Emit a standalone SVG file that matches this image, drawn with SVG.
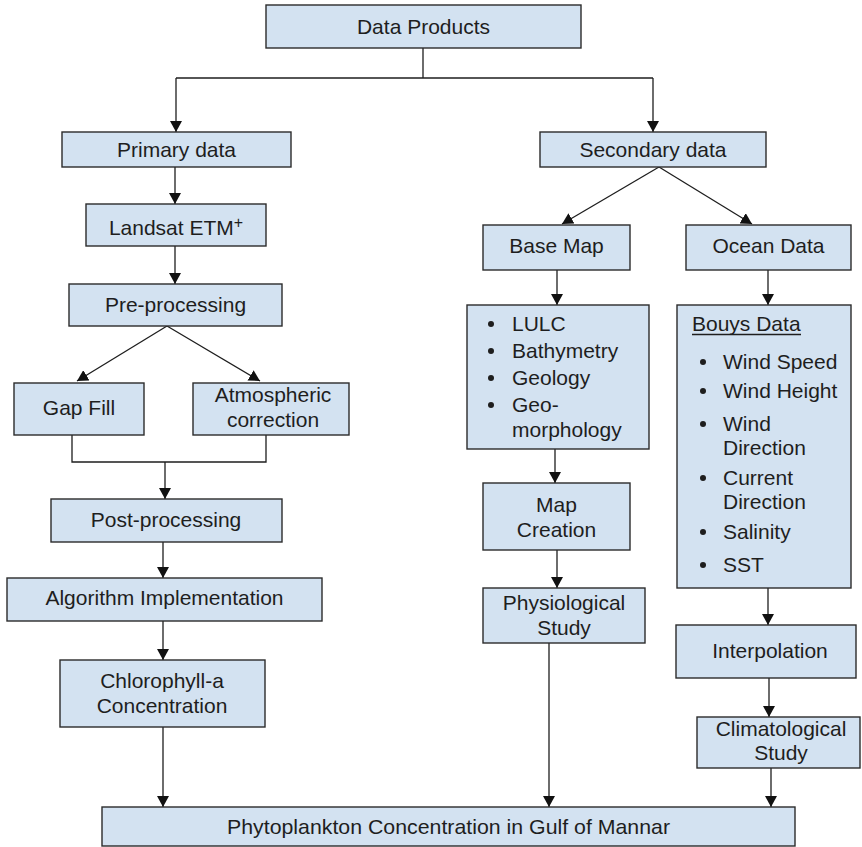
<svg xmlns="http://www.w3.org/2000/svg" width="862" height="847" viewBox="0 0 862 847">
<style>
.box{fill:#d3e2f1;stroke:#2b2b2b;stroke-width:1.4}
.t{font-family:"Liberation Sans",Arial,sans-serif;font-size:21px;fill:#1e1e1e}
.c{text-anchor:middle}
.ln{fill:none;stroke:#1e1e1e;stroke-width:1.3}
.ar{marker-end:url(#ah)}
.bul{fill:#1e1e1e}
</style>
<defs>
<marker id="ah" markerUnits="userSpaceOnUse" markerWidth="12" markerHeight="12" refX="11" refY="6" orient="auto">
<path d="M0,0 L11,6 L0,12 z" fill="#111"/>
</marker>
</defs>
<rect width="862" height="847" fill="#fff"/>

<g id="connectors">
<polyline class="ln" points="423,48 423,78"/>
<polyline class="ln" points="176,78 653,78"/>
<line class="ln ar" x1="176" y1="78" x2="176" y2="132"/>
<line class="ln ar" x1="653" y1="78" x2="653" y2="132"/>
<line class="ln ar" x1="175" y1="167" x2="175" y2="204"/>
<line class="ln ar" x1="175" y1="246" x2="175" y2="284"/>
<line class="ln ar" x1="167" y1="326" x2="77" y2="381"/>
<line class="ln ar" x1="167" y1="326" x2="260" y2="381"/>
<polyline class="ln" points="72,435 72,462 266,462 266,435"/>
<line class="ln ar" x1="165" y1="462" x2="165" y2="499"/>
<line class="ln ar" x1="163" y1="542" x2="163" y2="578"/>
<line class="ln ar" x1="163" y1="621" x2="163" y2="660"/>
<line class="ln ar" x1="163" y1="727" x2="163" y2="807"/>
<line class="ln ar" x1="659" y1="167" x2="562" y2="224"/>
<line class="ln ar" x1="659" y1="167" x2="752" y2="224"/>
<line class="ln ar" x1="557" y1="270" x2="557" y2="305"/>
<line class="ln ar" x1="768" y1="270" x2="768" y2="305"/>
<line class="ln ar" x1="555" y1="449" x2="555" y2="483"/>
<line class="ln ar" x1="557" y1="550" x2="557" y2="588"/>
<line class="ln ar" x1="549" y1="643" x2="549" y2="807"/>
<line class="ln ar" x1="768" y1="588" x2="768" y2="625"/>
<line class="ln ar" x1="769" y1="678" x2="769" y2="717"/>
<line class="ln ar" x1="771" y1="768" x2="771" y2="807"/>
</g>

<g id="data-products">
<rect class="box" x="266" y="5" width="315" height="43"/>
<text class="t c" x="423.5" y="34">Data Products</text>
</g>

<g id="primary-data">
<rect class="box" x="62" y="132" width="229" height="35"/>
<text class="t c" x="176.5" y="157">Primary data</text>
</g>

<g id="landsat">
<rect class="box" x="86" y="204" width="180" height="42"/>
<text class="t c" x="176" y="235">Landsat ETM<tspan dy="-7" font-size="16">+</tspan></text>
</g>

<g id="pre-processing">
<rect class="box" x="69" y="284" width="213" height="42"/>
<text class="t c" x="175.5" y="312">Pre-processing</text>
</g>

<g id="gap-fill">
<rect class="box" x="14" y="383" width="130" height="52"/>
<text class="t c" x="79" y="415">Gap Fill</text>
</g>

<g id="atmospheric">
<rect class="box" x="193" y="383" width="156" height="52"/>
<text class="t c" x="273" y="402">Atmospheric</text>
<text class="t c" x="273" y="427">correction</text>
</g>

<g id="post-processing">
<rect class="box" x="51" y="499" width="231" height="43"/>
<text class="t c" x="166" y="527">Post-processing</text>
</g>

<g id="algorithm">
<rect class="box" x="7" y="578" width="315" height="43"/>
<text class="t c" x="164.5" y="605">Algorithm Implementation</text>
</g>

<g id="chlorophyll">
<rect class="box" x="60" y="660" width="205" height="67"/>
<text class="t c" x="162" y="688">Chlorophyll-a</text>
<text class="t c" x="162" y="713">Concentration</text>
</g>

<g id="secondary-data">
<rect class="box" x="540" y="132" width="226" height="35"/>
<text class="t c" x="653" y="157">Secondary data</text>
</g>

<g id="base-map">
<rect class="box" x="483" y="225" width="147" height="45"/>
<text class="t c" x="556.5" y="253">Base Map</text>
</g>

<g id="ocean-data">
<rect class="box" x="686" y="225" width="165" height="45"/>
<text class="t c" x="768.5" y="253">Ocean Data</text>
</g>

<g id="base-map-layers">
<rect class="box" x="467" y="305" width="182" height="144"/>
<circle class="bul" cx="491" cy="324" r="3"/>
<text class="t" x="512" y="331">LULC</text>
<circle class="bul" cx="491" cy="351" r="3"/>
<text class="t" x="512" y="358">Bathymetry</text>
<circle class="bul" cx="491" cy="378" r="3"/>
<text class="t" x="512" y="385">Geology</text>
<circle class="bul" cx="491" cy="405" r="3"/>
<text class="t" x="512" y="412">Geo-</text>
<text class="t" x="512" y="437">morphology</text>
</g>

<g id="map-creation">
<rect class="box" x="483" y="483" width="147" height="67"/>
<text class="t c" x="556.5" y="512">Map</text>
<text class="t c" x="556.5" y="537">Creation</text>
</g>

<g id="physiological">
<rect class="box" x="483" y="588" width="162" height="55"/>
<text class="t c" x="564" y="610">Physiological</text>
<text class="t c" x="564" y="635">Study</text>
</g>

<g id="bouys-data">
<rect class="box" x="677" y="305" width="174" height="283"/>
<text class="t" x="692" y="331">Bouys Data</text>
<line x1="692" y1="334.5" x2="801" y2="334.5" stroke="#1e1e1e" stroke-width="1.3"/>
<circle class="bul" cx="703" cy="362" r="3"/>
<text class="t" x="723" y="369">Wind Speed</text>
<circle class="bul" cx="703" cy="391" r="3"/>
<text class="t" x="723" y="398">Wind Height</text>
<circle class="bul" cx="703" cy="424" r="3"/>
<text class="t" x="723" y="431">Wind</text>
<text class="t" x="723" y="455">Direction</text>
<circle class="bul" cx="703" cy="478" r="3"/>
<text class="t" x="723" y="485">Current</text>
<text class="t" x="723" y="509">Direction</text>
<circle class="bul" cx="703" cy="532" r="3"/>
<text class="t" x="723" y="539">Salinity</text>
<circle class="bul" cx="703" cy="565" r="3"/>
<text class="t" x="723" y="572">SST</text>
</g>

<g id="interpolation">
<rect class="box" x="676" y="625" width="180" height="53"/>
<text class="t c" x="770" y="658">Interpolation</text>
</g>

<g id="climatological">
<rect class="box" x="697" y="717" width="163" height="51"/>
<text class="t c" x="781" y="736">Climatological</text>
<text class="t c" x="781" y="760">Study</text>
</g>

<g id="phytoplankton">
<rect class="box" x="102" y="807" width="693" height="39"/>
<text class="t c" x="448.5" y="834" textLength="443" lengthAdjust="spacingAndGlyphs">Phytoplankton Concentration in Gulf of Mannar</text>
</g>
</svg>
